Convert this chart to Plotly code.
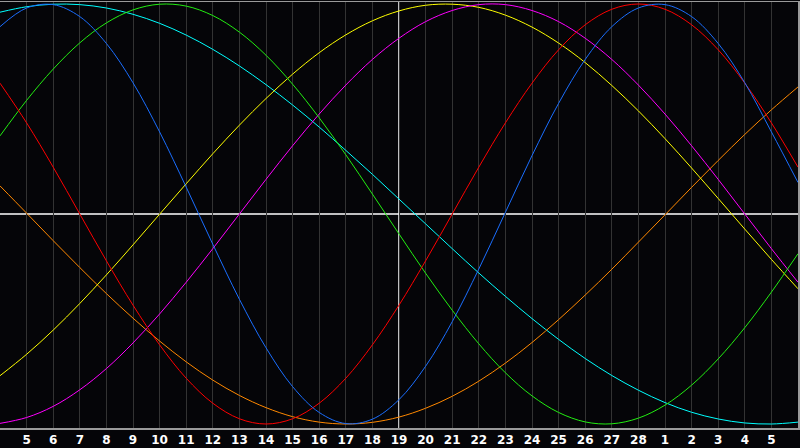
import plotly.graph_objects as go

# Day index across the chart (0..30), center day = index 15 (the 19th)
days = list(range(31))
tick_idx = list(range(1, 30))
tick_labels = ["5", "6", "7", "8", "9", "10", "11", "12", "13", "14", "15", "16",
               "17", "18", "19", "20", "21", "22", "23", "24", "25", "26", "27",
               "28", "1", "2", "3", "4", "5"]

physical = [0.892, 0.981, 0.997, 0.940, 0.812, 0.625, 0.391, 0.128, -0.144, -0.406,
            -0.637, -0.822, -0.945, -0.998, -0.977, -0.884, -0.725, -0.513, -0.262,
            0.008, 0.278, 0.527, 0.736, 0.892, 0.981, 0.997, 0.940, 0.812, 0.625,
            0.391, 0.150]
emotional = [0.623, 0.434, 0.223, 0.0, -0.223, -0.434, -0.623, -0.782, -0.901, -0.975,
             -1.0, -0.975, -0.901, -0.782, -0.623, -0.434, -0.223, 0.0, 0.223, 0.434,
             0.623, 0.782, 0.901, 0.975, 1.0, 0.975, 0.901, 0.782, 0.623, 0.434, 0.223]
intellectual = [0.372, 0.541, 0.690, 0.815, 0.910, 0.972, 0.999, 0.990, 0.945, 0.866,
                0.756, 0.618, 0.458, 0.282, 0.095, -0.095, -0.282, -0.458, -0.618,
                -0.756, -0.866, -0.945, -0.990, -0.999, -0.972, -0.910, -0.815, -0.690,
                -0.541, -0.372, -0.189]
intuitive = [-0.997, -0.969, -0.916, -0.837, -0.736, -0.614, -0.476, -0.325, -0.165, 0.0,
             0.165, 0.325, 0.476, 0.614, 0.736, 0.837, 0.916, 0.969, 0.997, 0.997,
             0.969, 0.916, 0.837, 0.736, 0.614, 0.476, 0.325, 0.165, 0.0, -0.165, -0.325]
aesthetic = [-0.770, -0.668, -0.553, -0.426, -0.290, -0.147, -0.001, 0.144, 0.287, 0.423,
             0.550, 0.666, 0.768, 0.853, 0.920, 0.967, 0.994, 0.999, 0.984, 0.947,
             0.890, 0.814, 0.721, 0.612, 0.491, 0.359, 0.219, 0.074, -0.072, -0.216,
             -0.356]
awareness = [0.134, 0.004, -0.127, -0.255, -0.379, -0.496, -0.605, -0.704, -0.791,
             -0.864, -0.922, -0.965, -0.991, -1.0, -0.992, -0.967, -0.925, -0.868,
             -0.796, -0.710, -0.612, -0.503, -0.386, -0.263, -0.134, -0.004, 0.127,
             0.255, 0.379, 0.496, 0.605]
spiritual = [0.961, 0.987, 0.999, 0.997, 0.981, 0.951, 0.908, 0.852, 0.784, 0.705, 0.616,
             0.519, 0.414, 0.303, 0.189, 0.071, -0.047, -0.165, -0.281, -0.392, -0.498,
             -0.597, -0.688, -0.769, -0.839, -0.898, -0.944, -0.976, -0.995, -1.0, -0.991]

series = [
    ("Spiritual", spiritual, "#00ffff"),
    ("Awareness", awareness, "#ff8800"),
    ("Aesthetic", aesthetic, "#ffff00"),
    ("Intuitive", intuitive, "#ff00ff"),
    ("Intellectual", intellectual, "#22ee11"),
    ("Emotional", emotional, "#ff0000"),
    ("Physical", physical, "#1a6eff"),
]

center_day = 15

fig = go.Figure()
for name, vals, col in series:
    fig.add_trace(go.Scatter(x=days, y=vals, mode="lines", name=name,
                             line=dict(color=col, width=1, shape="spline"),
                             hoverinfo="skip"))

fig.add_shape(type="line", xref="x", yref="paper", x0=center_day, x1=center_day,
              y0=0, y1=1, line=dict(color="#ffffff", width=1.5), layer="below")
fig.add_shape(type="line", xref="paper", yref="y", x0=0, x1=1, y0=0, y1=0,
              line=dict(color="#ffffff", width=1.5), layer="below")

fig.update_layout(
    width=800, height=448,
    margin=dict(l=0, r=0, t=0, b=20),
    paper_bgcolor="#050508", plot_bgcolor="#050508",
    showlegend=False,
    xaxis=dict(range=[0, 30], tickmode="array", tickvals=tick_idx, ticktext=tick_labels,
               showgrid=True, gridcolor="#333333", gridwidth=1, zeroline=False,
               showline=True, mirror=True, linecolor="#9a9a9a", linewidth=1.5,
               ticks="", tickfont=dict(family="DejaVu Sans", size=12, color="#ffffff",
                                       weight="bold")),
    yaxis=dict(range=[-1.019, 1.0095], showgrid=False, zeroline=False,
               showticklabels=False, ticks="", showline=True, mirror=True,
               linecolor="#9a9a9a", linewidth=1.5),
)

fig.write_html("out.html", config={"displayModeBar": False, "staticPlot": True},
               post_script="document.body.style.margin='0';document.body.style.background='#050508';")
